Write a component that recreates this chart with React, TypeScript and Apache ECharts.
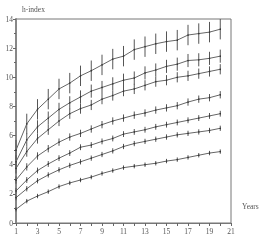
import React, { useEffect, useRef } from "react";
import * as echarts from "echarts";

const years = [1, 2, 3, 4, 5, 6, 7, 8, 9, 10, 11, 12, 13, 14, 15, 16, 17, 18, 19, 20];

const s1 = [5.0, 6.8, 7.8, 8.5, 9.2, 9.6, 10.1, 10.45, 10.85, 11.25, 11.45, 11.9, 12.1, 12.3, 12.45, 12.55, 12.9, 13.0, 13.1, 13.3];
const s2 = [4.2, 5.7, 6.6, 7.2, 7.8, 8.25, 8.65, 9.05, 9.3, 9.55, 9.8, 9.95, 10.3, 10.5, 10.75, 10.9, 11.15, 11.2, 11.3, 11.45];
const s3 = [3.75, 4.9, 5.8, 6.4, 7.0, 7.5, 7.85, 8.1, 8.5, 8.75, 9.05, 9.2, 9.45, 9.7, 9.8, 10.0, 10.1, 10.25, 10.4, 10.55];
const s4 = [2.95, 3.85, 4.6, 5.1, 5.55, 5.9, 6.15, 6.45, 6.75, 7.0, 7.2, 7.4, 7.55, 7.75, 7.9, 8.05, 8.3, 8.5, 8.6, 8.8];
const s5 = [2.2, 2.95, 3.6, 4.05, 4.45, 4.8, 5.2, 5.35, 5.6, 5.8, 6.1, 6.25, 6.4, 6.6, 6.75, 6.9, 7.05, 7.2, 7.35, 7.5];
const s6 = [1.74, 2.35, 2.9, 3.3, 3.65, 3.95, 4.2, 4.45, 4.7, 4.95, 5.25, 5.45, 5.6, 5.75, 5.9, 6.05, 6.15, 6.25, 6.35, 6.5];
const s7 = [0.94, 1.5, 1.85, 2.15, 2.5, 2.75, 2.95, 3.15, 3.4, 3.6, 3.8, 3.9, 4.0, 4.1, 4.25, 4.35, 4.5, 4.65, 4.8, 4.9];

const seriesValues = [s1, s2, s3, s4, s5, s6, s7];
const errorHalf = [0.7, 0.45, 0.35, 0.25, 0.2, 0.18, 0.15];

const yTicks = [0, 2, 4, 6, 8, 10, 12, 14];
const xTicks = [1, 3, 5, 7, 9, 11, 13, 15, 17, 19, 21];

const FONT = "'Liberation Serif', 'DejaVu Serif', serif";

export default function App() {
  const ref = useRef<HTMLDivElement>(null);
  useEffect(() => {
    if (!ref.current) return;
    const chart = echarts.init(ref.current, undefined, { renderer: "svg" });
    const lineSeries: any[] = seriesValues.map((vals) => ({
      type: "line",
      data: years.map((x, i) => [x, vals[i]]),
      symbol: "circle",
      symbolSize: 1.5,
      itemStyle: { color: "#333" },
      lineStyle: { color: "#666", width: 1 },
      silent: true,
      z: 3,
    }));
    const errSeries: any[] = seriesValues.map((vals, k) => ({
      type: "custom",
      data: years.map((x, i) => [x, vals[i] - errorHalf[k], vals[i] + errorHalf[k]]),
      renderItem: (params: any, api: any) => {
        const lo = api.coord([api.value(0), api.value(1)]);
        const hi = api.coord([api.value(0), api.value(2)]);
        return {
          type: "line",
          shape: { x1: lo[0], y1: lo[1], x2: hi[0], y2: hi[1] },
          style: { stroke: "#555", lineWidth: 1 },
        };
      },
      silent: true,
      z: 2,
    }));
    chart.setOption({
      animation: false,
      grid: {
        left: 16,
        right: 32,
        top: 19,
        bottom: 18,
        show: true,
        borderColor: "#777",
        borderWidth: 1,
      },
      xAxis: {
        type: "value",
        min: 1,
        max: 21,
        interval: 1,
        axisLine: { show: true, lineStyle: { color: "#777", width: 1 } },
        axisTick: { show: true, length: 3, inside: false, lineStyle: { color: "#666" } },
        axisLabel: {
          interval: 1,
          formatter: (v: number) => (xTicks.includes(v) ? String(v) : ""),
          fontFamily: FONT,
          fontSize: 7.5,
          color: "#555",
          margin: 4,
        },
        splitLine: { show: false },
      },
      yAxis: {
        type: "value",
        min: 0,
        max: 14,
        interval: 2,
        axisLine: { show: true, lineStyle: { color: "#888", width: 2 } },
        axisTick: { show: true, length: 3, lineStyle: { color: "#666" } },
        minorTick: { show: true, splitNumber: 2, length: 2, lineStyle: { color: "#666" } },
        axisLabel: {
          formatter: (v: number) => (yTicks.includes(v) ? String(v) : ""),
          fontFamily: FONT,
          fontSize: 7.5,
          color: "#555",
          margin: 3,
        },
        splitLine: { show: false },
      },
      graphic: [
        {
          type: "text",
          left: 22,
          top: 5,
          style: { text: "h-index", font: `7.5px ${FONT}`, fill: "#555" },
        },
        {
          type: "text",
          left: 242,
          top: 202,
          style: { text: "Years", font: `7.5px ${FONT}`, fill: "#555" },
        },
      ],
      series: [...errSeries, ...lineSeries],
    });
    return () => chart.dispose();
  }, []);
  return (
    <div
      ref={ref}
      style={{ position: "fixed", left: 0, top: 0, width: 263, height: 241 }}
    />
  );
}
